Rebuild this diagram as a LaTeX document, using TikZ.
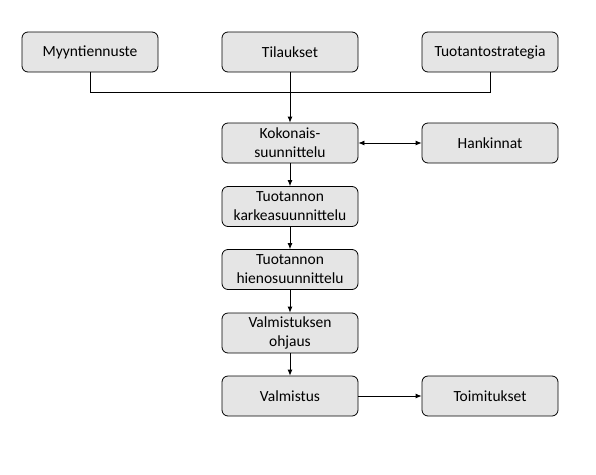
\documentclass[tikz,border=0pt]{standalone}
\usepackage{fontspec}
\setmainfont{Carlito}
\usetikzlibrary{arrows.meta}
\begin{document}
\begin{tikzpicture}[x=1pt,y=-1pt,
  box/.style={draw=black, line width=0.8pt, fill=black!10, rounded corners=6pt,
    minimum width=136pt, minimum height=40pt, inner sep=0pt, align=center,
    font=\fontsize{15.5}{19}\selectfont},
  conn/.style={line width=0.8pt, draw=black},
  arr/.style={conn, -{Latex[length=6pt,width=5pt]}},
  darr/.style={conn, {Latex[length=6pt,width=5pt]}-{Latex[length=6pt,width=5pt]}}]
\useasboundingbox (0,0) rectangle (596,474);
\node[box] (myy) at (90,52) {Myyntiennuste};
\node[box] (til) at (290,52) {Tilaukset};
\node[box] (tuo) at (490,52) {Tuotantostrategia};
\node[box] (kok) at (290,143) {Kokonais-\\suunnittelu};
\node[box] (han) at (490,143) {Hankinnat};
\node[box] (kar) at (290,206.5) {Tuotannon\\karkeasuunnittelu};
\node[box] (hie) at (290,269.5) {Tuotannon\\hienosuunnittelu};
\node[box] (ohj) at (290,333) {Valmistuksen\\ohjaus};
\node[box] (val) at (290,396) {Valmistus};
\node[box] (toi) at (490,396) {Toimitukset};
\coordinate (bl) at (90,92);
\coordinate (br) at (490,92);
\draw[conn] (myy.south) -- (bl) -- (br) -- (tuo.south);
\draw[arr] (til.south) -- (kok.north);
\draw[darr] (kok.east) -- (han.west);
\draw[arr] (kok.south) -- (kar.north);
\draw[arr] (kar.south) -- (hie.north);
\draw[arr] (hie.south) -- (ohj.north);
\draw[arr] (ohj.south) -- (val.north);
\draw[arr] (val.east) -- (toi.west);
\end{tikzpicture}
\end{document}
